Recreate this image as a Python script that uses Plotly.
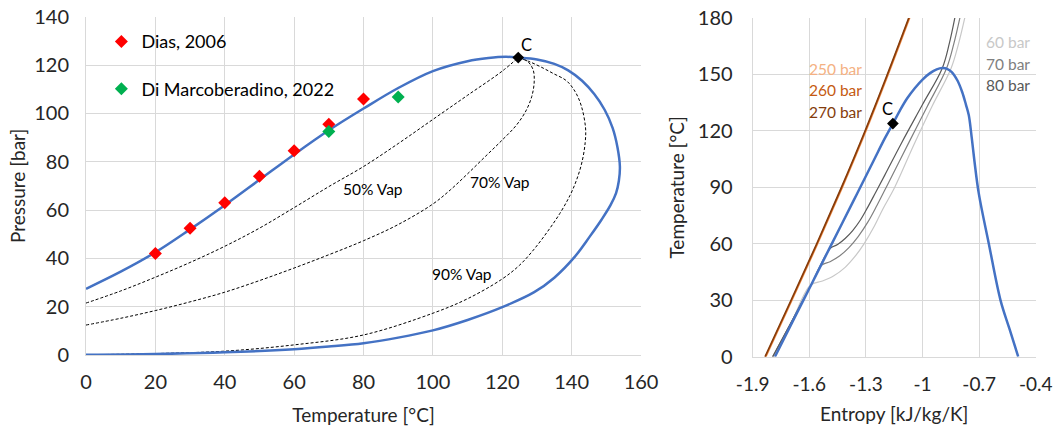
import plotly.graph_objects as go

# ---------------- Left chart data (Temperature [°C], Pressure [bar]) ----------------
env_T = [0, 10, 20, 30, 40, 50, 60, 70, 80, 90, 100, 110, 116, 121, 124.6,
         130, 135, 139, 143, 146.5, 149.5, 151.8, 153.2, 153.9, 153.6, 152.8, 151.2, 148.6,
         145.2, 140.8, 135, 129.2, 120, 110, 100, 90, 80, 70, 60, 40, 20, 0]
env_P = [27.4, 34.5, 42.5, 52, 62, 72.5, 83, 93, 102, 110.5, 117.5, 121.6, 122.9, 123.4, 123.1,
         122.3, 120.5, 117.8, 113.5, 108, 101.5, 94, 86, 78, 72, 67, 62, 56,
         49, 40.5, 32, 26, 19.8, 14.5, 10.2, 7.2, 4.9, 3.5, 2.4, 1.1, 0.4, 0.1]

vap50_T = [0, 10, 20, 30, 40, 50, 60, 70, 80, 90, 100, 110, 120, 124.6]
vap50_P = [21.5, 26.5, 32.2, 38.3, 45, 52.5, 61, 69.7, 78, 87.5, 97.5, 107.5, 117.5, 123.1]

vap70_T = [0, 10, 20, 30, 40, 50, 60, 70, 80, 90, 100, 105, 110, 115, 120, 124,
           126.8, 128.5, 129.2, 128.9, 127.3, 124.6]
vap70_P = [12.4, 15.2, 18.4, 22, 26, 30.8, 36, 41.5, 47.3, 54, 62.5, 68.3, 75, 82, 89, 95,
           101, 107, 113, 118, 121.5, 123.1]

vap90_T = [0, 20, 40, 60, 80, 100, 110, 120, 125, 129, 133, 136.6, 139.5, 141.4, 143, 143.9,
           144, 142.8, 141, 138.5, 134.7, 131, 127.5, 124.6]
vap90_P = [0.1, 0.6, 1.6, 4.2, 8.3, 17.3, 23.3, 31.5, 37.2, 43.5, 51, 58.6, 66, 72.4, 80, 88,
           94, 103, 109, 113.5, 116.5, 119.3, 121.6, 123.1]

dias_T = [20, 30, 40, 50, 60, 70, 80]
dias_P = [42, 52.5, 63, 74, 84.5, 95.5, 106]

dimarco_T = [70, 90]
dimarco_P = [92.5, 106.8]

crit_T = [124.6]
crit_P = [123.1]

vap_labels = ["50% Vap", "70% Vap", "90% Vap"]
vap_label_T = [82.6, 119.3, 108.3]
vap_label_P = [68.7, 71.5, 33.5]

left_xticks = [0, 20, 40, 60, 80, 100, 120, 140, 160]
left_yticks = [0, 20, 40, 60, 80, 100, 120, 140]

# ---------------- Right chart data (Entropy [kJ/kg/K], Temperature [°C]) ----------------
dome_s = [-1.782, -1.692, -1.591, -1.491, -1.364, -1.26, -1.2, -1.157, -1.12, -1.082, -1.04,
          -1.0, -0.96, -0.925, -0.895, -0.87, -0.845, -0.815, -0.79, -0.77, -0.755,
          -0.74, -0.725, -0.702, -0.649, -0.587, -0.54, -0.493]
dome_T = [0, 18, 38, 58, 83.2, 104, 116, 123.9, 130.8, 137.2, 142.8,
          147.3, 150.7, 152.7, 153.4, 153.0, 151.3, 146.8, 140.7, 134, 128.4,
          117, 104, 86.8, 60.2, 30.1, 15, 0]

brown_T = [0, 30, 60, 90, 120, 150, 182]
s_250 = [-1.829, -1.691, -1.555, -1.424, -1.299, -1.181, -1.060]
s_260 = [-1.832, -1.694, -1.558, -1.427, -1.302, -1.184, -1.063]
s_270 = [-1.835, -1.697, -1.561, -1.430, -1.305, -1.187, -1.066]

s_60bar = [-1.794, -1.692, -1.594, -1.53, -1.47, -1.41, -1.36, -1.31, -1.26, -1.21, -1.15,
           -1.047, -0.95, -0.849, -0.81, -0.773]
T_60bar = [0, 19, 38, 40.2, 43, 47.5, 53, 60, 68.5, 78.5, 89.5,
           112.4, 133, 153.2, 166, 181.5]
s_70bar = [-1.794, -1.692, -1.591, -1.534, -1.49, -1.44, -1.39, -1.34, -1.29, -1.241, -1.18,
           -1.074, -0.975, -0.873, -0.835, -0.799]
T_70bar = [0, 19, 38, 48.7, 50.5, 53.5, 58, 64, 71.5, 80.5, 92.5,
           113.5, 133, 153.2, 166, 181.5]
s_80bar = [-1.794, -1.692, -1.591, -1.489, -1.45, -1.41, -1.37, -1.33, -1.29, -1.25, -1.2,
           -1.109, -1.0, -0.896, -0.858, -0.826]
T_80bar = [0, 19, 38, 57.6, 59.6, 62.8, 67, 72.5, 79.5, 87, 96.5,
           114, 134, 153.2, 166.5, 181.5]

crit_s = [-1.157]
crit_Ts = [123.9]

brown_labels = ["250 bar", "260 bar", "270 bar"]
brown_label_T = [153, 141.6, 130]
gray_labels = ["60 bar", "70 bar", "80 bar"]
gray_label_T = [167.2, 155.7, 144.2]

right_xticks = [-1.9, -1.6, -1.3, -1.0, -0.7, -0.4]
right_xticktext = ["-1.9", "-1.6", "-1.3", "-1", "-0.7", "-0.4"]
right_yticks = [0, 30, 60, 90, 120, 150, 180]

# ---------------- Styles ----------------
FONT = "Lato, 'Open Sans', sans-serif"
BLUE = "#4472C4"
GRID = "#D9D9D9"
TXT = "#262626"
C250, C260, C270 = "#F4B183", "#C55A11", "#843C0C"
C60, C70, C80 = "#C8C8C8", "#808080", "#595959"

fig = go.Figure()

# left chart
for T, P in [(vap50_T, vap50_P), (vap70_T, vap70_P), (vap90_T, vap90_P)]:
    fig.add_trace(go.Scatter(x=T, y=P, mode="lines", xaxis="x", yaxis="y",
                             line=dict(color="black", width=1, dash="3px,2px", shape="spline", smoothing=1),
                             showlegend=False, hoverinfo="skip"))
fig.add_trace(go.Scatter(x=env_T, y=env_P, mode="lines", xaxis="x", yaxis="y",
                         line=dict(color=BLUE, width=2.5, shape="spline", smoothing=1),
                         showlegend=False))
fig.add_trace(go.Scatter(x=dias_T, y=dias_P, mode="markers", name="Dias, 2006",
                         xaxis="x", yaxis="y", legendgroup="a",
                         marker=dict(symbol="diamond", size=10, color="#FF0000")))
fig.add_trace(go.Scatter(x=dimarco_T, y=dimarco_P, mode="markers", name="Di Marcoberadino, 2022",
                         xaxis="x", yaxis="y", legendgroup="b",
                         marker=dict(symbol="diamond", size=10, color="#00B050")))
fig.add_trace(go.Scatter(x=crit_T, y=crit_P, mode="markers", xaxis="x", yaxis="y",
                         marker=dict(symbol="diamond", size=9, color="black"), showlegend=False))

# right chart
for s, col in [(s_250, C250), (s_260, C260), (s_270, C270)]:
    fig.add_trace(go.Scatter(x=s, y=brown_T, mode="lines", xaxis="x2", yaxis="y2",
                             line=dict(color=col, width=1.5, shape="spline", smoothing=1),
                             showlegend=False))
for s, T, col in [(s_60bar, T_60bar, C60), (s_70bar, T_70bar, C70), (s_80bar, T_80bar, C80)]:
    fig.add_trace(go.Scatter(x=s, y=T, mode="lines", xaxis="x2", yaxis="y2",
                             line=dict(color=col, width=1.2, shape="spline", smoothing=1),
                             showlegend=False))
fig.add_trace(go.Scatter(x=dome_s, y=dome_T, mode="lines", xaxis="x2", yaxis="y2",
                         line=dict(color=BLUE, width=2.5, shape="spline", smoothing=1),
                         showlegend=False))
fig.add_trace(go.Scatter(x=crit_s, y=crit_Ts, mode="markers", xaxis="x2", yaxis="y2",
                         marker=dict(symbol="diamond", size=9, color="black"), showlegend=False))

ann = []
for t, x, y in zip(vap_labels, vap_label_T, vap_label_P):
    ann.append(dict(text=t, x=x, y=y, xref="x", yref="y", showarrow=False,
                    font=dict(size=15.5, color="black", family=FONT)))
ann.append(dict(text="C", x=crit_T[0] + 2.3, y=crit_P[0] + 5.3, xref="x", yref="y", showarrow=False,
                font=dict(size=16.5, color="black", family=FONT)))
ann.append(dict(text="C", x=crit_s[0] - 0.026, y=crit_Ts[0] + 7.5, xref="x2", yref="y2", showarrow=False,
                font=dict(size=16.5, color="black", family=FONT)))
for t, y, col in zip(brown_labels, brown_label_T, [C250, C260, C270]):
    ann.append(dict(text=t, x=-1.459, y=y, xref="x2", yref="y2", showarrow=False,
                    font=dict(size=15.5, color=col, family=FONT)))
for t, y, col in zip(gray_labels, gray_label_T, [C60, C70, C80]):
    ann.append(dict(text=t, x=-0.547, y=y, xref="x2", yref="y2", showarrow=False,
                    font=dict(size=15.5, color=col, family=FONT)))

axis_common = dict(showgrid=True, gridcolor=GRID, gridwidth=1, zeroline=False,
                   showline=True, linecolor=GRID, linewidth=1, ticks="", automargin=False,
                   ticklabeloverflow="allow",
                   title_font=dict(size=19, color=TXT, family=FONT))
tf20 = dict(size=20, color=TXT, family=FONT)
tf_right_x = dict(size=19, color=TXT, family=FONT)

fig.update_layout(
    width=1054, height=432,
    margin=dict(l=0, r=0, t=0, b=0),
    paper_bgcolor="white", plot_bgcolor="white",
    font=dict(family=FONT, color=TXT),
    xaxis=dict(domain=[0.0816, 0.6082], range=[0, 160], tickvals=left_xticks, ticklabelstandoff=9,
               tickfont=tf20,
               title=dict(text="Temperature [°C]", standoff=16), anchor="y", **axis_common),
    yaxis=dict(domain=[0.1782, 0.9613], range=[0, 140], tickvals=left_yticks, ticklabelstandoff=12,
               tickfont=tf20,
               title=dict(text="Pressure [bar]", standoff=3), anchor="x", **axis_common),
    xaxis2=dict(domain=[0.7141, 0.9827], range=[-1.9, -0.4], tickvals=right_xticks,
                ticktext=right_xticktext, ticklabelstandoff=10, tickfont=tf_right_x,
                title=dict(text="Entropy [kJ/kg/K]", standoff=14), anchor="y2", **axis_common),
    yaxis2=dict(domain=[0.1743, 0.9583], range=[0, 180], tickvals=right_yticks, ticklabelstandoff=15,
                tickfont=tf20,
                title=dict(text="Temperature [°C]", standoff=8), anchor="x2", **axis_common),
    legend=dict(x=0.0962, y=0.9463, xanchor="left", yanchor="top", bgcolor="rgba(0,0,0,0)",
                font=dict(size=18, color="black", family=FONT), tracegroupgap=21),
    annotations=ann,
)

# remove the default 8px page margin so the figure fills the window exactly
fig.write_html("out.html", config={"displayModeBar": False},
               post_script="document.body.style.margin='0';")
